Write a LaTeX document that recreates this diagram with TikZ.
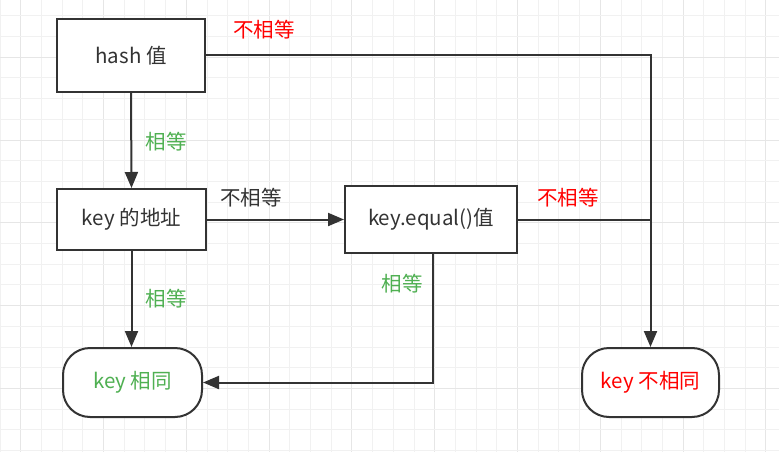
\documentclass[tikz,border=0pt]{standalone}
\usepackage{fontspec}
\setmainfont{Noto Sans CJK SC}
\usetikzlibrary{arrows.meta}
\definecolor{ink}{HTML}{333333}
\definecolor{okgreen}{HTML}{4FB052}
\definecolor{nored}{HTML}{FF0000}
\definecolor{gridlight}{HTML}{F1F1F1}
\definecolor{griddark}{HTML}{E6E6E6}
\tikzset{
  boxnode/.style={draw=ink, line width=2pt, fill=white, minimum width=148pt, minimum height=62pt, inner sep=0pt, text=ink, font=\fontsize{20.5}{24}\selectfont},
  endnode/.style={draw=ink, line width=2pt, fill=white, rounded corners=27pt, minimum width=138pt, minimum height=69pt, inner sep=0pt, font=\fontsize{20.5}{24}\selectfont},
  conn/.style={draw=ink, line width=2pt},
  arr/.style={conn, -{Triangle[length=16pt,width=13pt]}},
  lbl/.style={inner sep=0pt, font=\fontsize{20.5}{24}\selectfont},
}
\begin{document}
\begin{tikzpicture}[x=1pt,y=-1pt]
\useasboundingbox (0,0) rectangle (779,452);
\fill[white] (0,0) rectangle (779,452);
% grid
\foreach \k in {0,...,37} {
  \pgfmathsetmacro{\xx}{20.7*\k}
  \pgfmathtruncatemacro{\mm}{mod(\k,4)}
  \ifnum\mm=1
    \draw[griddark, line width=1pt] (\xx,0) -- (\xx,452);
  \else
    \draw[gridlight, line width=1pt] (\xx,0) -- (\xx,452);
  \fi
}
\foreach \k in {0,...,21} {
  \pgfmathsetmacro{\yy}{15.8+20.7*\k}
  \pgfmathtruncatemacro{\mm}{mod(\k,4)}
  \ifnum\mm=2
    \draw[griddark, line width=1pt] (0,\yy) -- (779,\yy);
  \else
    \draw[gridlight, line width=1pt] (0,\yy) -- (779,\yy);
  \fi
}
% nodes
\node[boxnode, minimum height=73pt] (hash) at (131,55.5) {hash 值};
\node[boxnode, minimum width=149pt, minimum height=61pt] (addr) at (131.5,219.5) {key 的地址};
\node[boxnode, minimum width=172pt, minimum height=67pt] (eq) at (431,219.5) {key.equal()值};
\node[endnode, text=okgreen, minimum width=139pt] (same) at (132.5,382.5) {key 相同};
\node[endnode, text=nored, minimum width=137pt] (diff) at (650.5,382.5) {key 不相同};
% connectors
\draw[arr] (hash.east) -| (diff.north);
\draw[conn] (eq.east) -- (eq.east -| diff.north);
\draw[arr] (hash.south) -- (addr.north);
\draw[arr] (addr.east) -- (eq.west);
\draw[arr] (addr.south) -- (addr.south |- same.north);
\draw[arr] ([xshift=2pt]eq.south) |- (same.east);
% labels
\node[lbl, text=nored] (l1) at (264,30) {不相等};
\node[lbl, text=okgreen] (l2) at (166,142) {相等};
\node[lbl, text=ink] (l3) at (251,198) {不相等};
\node[lbl, text=nored] (l4) at (568,198) {不相等};
\node[lbl, text=okgreen] (l5) at (166,299) {相等};
\node[lbl, text=okgreen] (l6) at (402,284) {相等};
\end{tikzpicture}
\end{document}
